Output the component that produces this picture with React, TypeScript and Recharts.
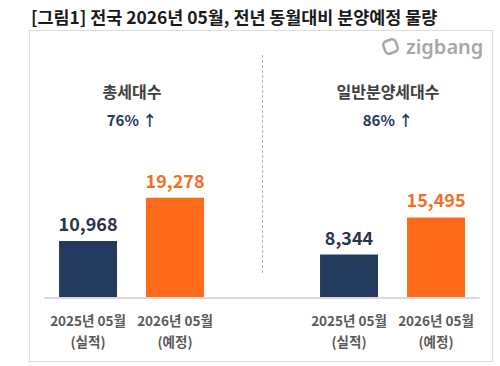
import React from "react";
import { BarChart, Bar, XAxis, YAxis, Cell, LabelList } from "recharts";

const chartTitle = "[그림1] 전국 2026년 05월, 전년 동월대비 분양예정 물량";
const panelTitles = ["총세대수", "일반분양세대수"];
const growthRates = ["76% ↑", "86% ↑"];
const periods = ["2025년 05월", "2026년 05월"];
const statuses = ["(실적)", "(예정)"];
const totalUnits = [10968, 19278];
const generalUnits = [8344, 15495];

const barColors = ["#243a5e", "#ff6a1a"];
const labelColors = ["#2b3447", "#f36f21"];
const FONT = "'Noto Sans CJK KR', 'Noto Sans', sans-serif";

type Row = { key: string; period: string; status: string; value: number | null; kind: number };

const data: Row[] = [
  ...totalUnits.map((v, i) => ({ key: `total-${i}`, period: periods[i], status: statuses[i], value: v, kind: i })),
  { key: "gap", period: "", status: "", value: null, kind: -1 },
  ...generalUnits.map((v, i) => ({ key: `general-${i}`, period: periods[i], status: statuses[i], value: v, kind: i })),
];

const PeriodTick = (props: any) => {
  const { x, y, index } = props;
  const row = data[index];
  if (!row || !row.period) return null;
  return (
    <g fontFamily={FONT} fontSize={13.5} fontWeight={700} fill="#595959">
      <text x={x} y={y + 20} textAnchor="middle">{row.period}</text>
      <text x={x} y={y + 41} textAnchor="middle">{row.status}</text>
    </g>
  );
};

const ValueLabel = (props: any) => {
  const { x, y, width, value } = props;
  if (value == null) return null;
  // colour follows the bar this value belongs to
  const row = data.find((r) => r.value === value);
  const kind = row ? row.kind : 0;
  return (
    <text
      x={x + width / 2}
      y={y - 10}
      textAnchor="middle"
      fill={labelColors[kind]}
      fontFamily={FONT}
      fontSize={18}
      fontWeight={700}
    >
      {Number(value).toLocaleString("en-US")}
    </text>
  );
};

const panelCenters = [132, 388];

export default function App() {
  return (
    <div style={{ position: "absolute", left: 0, top: 0, width: 500, height: 366, background: "#fff", fontFamily: FONT }}>
      <div
        style={{
          position: "absolute",
          left: 31,
          top: 6,
          fontSize: 17.4,
          lineHeight: "22px",
          fontWeight: 700,
          color: "#1a1a1a",
          whiteSpace: "nowrap",
        }}
      >
        {chartTitle}
      </div>
      <div
        style={{
          position: "absolute",
          left: 29,
          top: 30,
          width: 464,
          height: 332,
          border: "1px solid #dcdcdc",
          boxSizing: "border-box",
        }}
      />
      <div style={{ position: "absolute", left: 262, top: 55, height: 218, borderLeft: "1px dashed #b5b5b5" }} />
      <div style={{ position: "absolute", left: 380, top: 36, display: "flex", alignItems: "center", color: "#a6a6a6" }}>
        <svg width={22} height={20} viewBox="0 0 22 20">
          <rect x={4} y={3} width={13} height={13} rx={4} transform="rotate(-20 10.5 9.5)" fill="none" stroke="#a6a6a6" strokeWidth={2.5} />
        </svg>
        <span style={{ fontFamily: "'Noto Sans', sans-serif", fontSize: 20, fontWeight: 600, marginLeft: 4, lineHeight: "22px" }}>zigbang</span>
      </div>
      {panelTitles.map((t, i) => (
        <React.Fragment key={t}>
          <div
            style={{
              position: "absolute",
              left: panelCenters[i] - 100,
              width: 200,
              top: 80,
              textAlign: "center",
              fontSize: 16,
              lineHeight: "22px",
              fontWeight: 700,
              color: "#404040",
            }}
          >
            {t}
          </div>
          <div
            style={{
              position: "absolute",
              left: panelCenters[i] - 100,
              width: 200,
              top: 109,
              textAlign: "center",
              fontSize: 15,
              lineHeight: "22px",
              fontWeight: 700,
              color: "#23395d",
            }}
          >
            {growthRates[i]}
          </div>
        </React.Fragment>
      ))}
      <div style={{ position: "absolute", left: 0, top: 0 }}>
        <BarChart
          width={500}
          height={366}
          data={data}
          margin={{ top: 194, right: 20.5, bottom: 18, left: 44.5 }}
          barCategoryGap="16.7%"
        >
          <XAxis
            dataKey="key"
            height={50}
            interval={0}
            axisLine={{ stroke: "#d9d9d9", strokeWidth: 2 }}
            tickLine={false}
            tick={(p: any) => <PeriodTick {...p} />}
          />
          <YAxis hide domain={[0, 20000]} />
          <Bar dataKey="value" isAnimationActive={false}>
            {data.map((r) => (
              <Cell key={r.key} fill={r.kind >= 0 ? barColors[r.kind] : "none"} />
            ))}
            <LabelList dataKey="value" content={(p: any) => <ValueLabel {...p} />} />
          </Bar>
        </BarChart>
      </div>
    </div>
  );
}
